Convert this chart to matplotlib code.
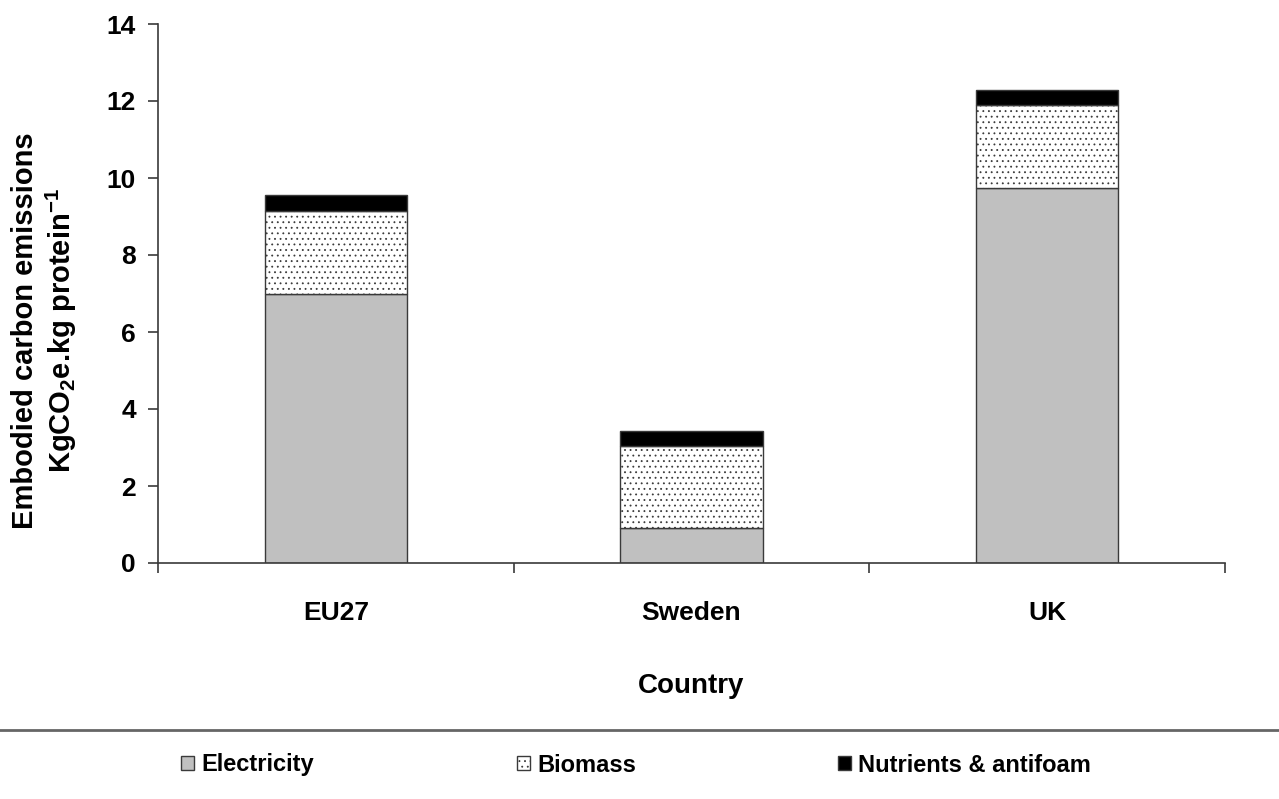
import matplotlib
matplotlib.use("Agg")
import matplotlib.pyplot as plt
import numpy as np

# Dados
countries = ["EU27", "Sweden", "UK"]
electricity = [7.0, 0.9, 9.75]
biomass = [2.15, 2.13, 2.15]
nutrients = [0.4, 0.4, 0.38]

plt.rcParams['font.family'] = ['Liberation Sans', 'DejaVu Sans']
plt.rcParams['font.weight'] = 'bold'
plt.rcParams['mathtext.fontset'] = 'custom'
plt.rcParams['mathtext.rm'] = 'Liberation Sans:bold'
plt.rcParams['mathtext.bf'] = 'Liberation Sans:bold'
plt.rcParams['mathtext.it'] = 'Liberation Sans:bold'
plt.rcParams['hatch.linewidth'] = 0.6

edge = '#3a3a3a'

fig = plt.figure(figsize=(12.79, 7.99), dpi=100)
ax = fig.add_axes([158 / 1279, 1 - 563 / 799, (1225 - 158) / 1279, (563 - 24) / 799])

x = np.arange(len(countries))
bottom2 = np.array(electricity) + np.array(biomass)

b1 = ax.bar(x, electricity, width=0.4, color='#c0c0c0', edgecolor=edge, linewidth=1.0,
            label='Electricity')
b2 = ax.bar(x, biomass, width=0.4, bottom=electricity, color='white', edgecolor=edge,
            linewidth=1.0, hatch='...', label='Biomass')
b3 = ax.bar(x, nutrients, width=0.4, bottom=bottom2, color='black', edgecolor=edge,
            linewidth=1.0, label='Nutrients & antifoam')

ax.set_xlim(-0.5, len(countries) - 0.5)
ax.set_ylim(0, 14)
ax.set_yticks(np.arange(0, 15, 2))

# Rótulos no centro, marcas de tick nos limites das categorias
ax.set_xticks(x)
ax.set_xticklabels(countries)
ax.set_xticks(np.arange(-0.5, len(countries)), minor=True)
ax.tick_params(axis='x', which='major', length=0, pad=27, labelsize=19)
ax.tick_params(axis='x', which='minor', length=7, width=1.2, direction='out', color=edge)
ax.tick_params(axis='y', length=7, width=1.2, direction='out', pad=9, labelsize=19, color=edge)

for s in ['top', 'right']:
    ax.spines[s].set_visible(False)
for s in ['left', 'bottom']:
    ax.spines[s].set_color(edge)
    ax.spines[s].set_linewidth(1.2)

ax.set_xlabel('Country', fontsize=20, fontweight='bold')
ax.xaxis.set_label_coords(0.5, (563 - 686) / 539)
ax.xaxis.label.set_va('center')

ax.set_ylabel('Embodied carbon emissions\nKgCO$_2$e.kg protein$^{-1}$', fontsize=21,
              fontweight='bold', linespacing=1.2)
ax.yaxis.set_label_coords((45 - 158) / 1067, (563 - 331) / 539)
ax.yaxis.label.set_va('center')

# Linha separadora acima da legenda
fig.add_artist(plt.Line2D([0, 1], [1 - 730 / 799, 1 - 730 / 799], color='#666666',
                          linewidth=2, transform=fig.transFigure))

# Legenda: uma entrada por posição
for handle, xpos in zip([b1, b2, b3], [181, 517, 838]):
    fig.legend([handle], [handle.get_label()], loc='center left',
               bbox_to_anchor=(xpos / 1279, 1 - 765 / 799), frameon=False,
               fontsize=17, handlelength=0.55, handleheight=0.55, handletextpad=0.3,
               borderpad=0, borderaxespad=0)

fig.savefig('out.png', dpi=100)
